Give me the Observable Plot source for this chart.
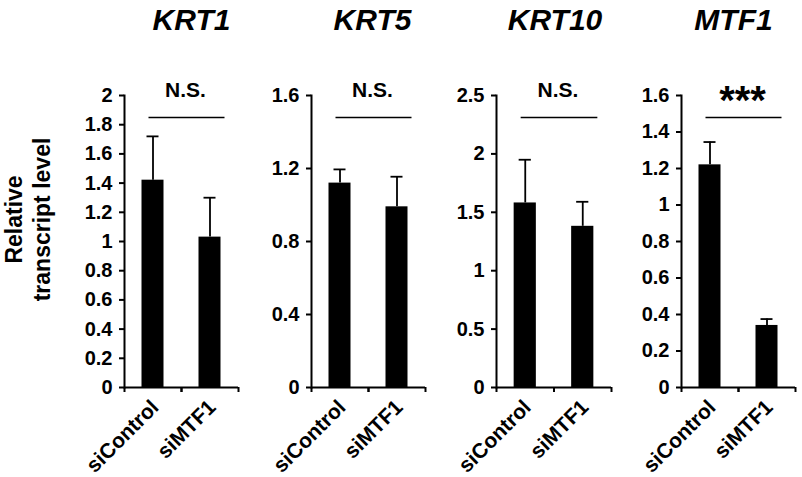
<!DOCTYPE html>
<html><head><meta charset="utf-8">
<script src="https://cdn.jsdelivr.net/npm/d3@7"></script>
<script src="https://cdn.jsdelivr.net/npm/@observablehq/plot@0.6"></script>
<style>
body{margin:0;background:#fff;}
#chart{position:relative;width:802px;height:477px;overflow:hidden;background:#fff;}
#chart > div{position:absolute;top:0;}
</style></head><body><div id="chart"></div>
<script>
const genes = ["KRT1", "KRT5", "KRT10", "MTF1"];
const groups = ["siControl", "siMTF1"];
const meanControl = [1.42, 1.12, 1.58, 1.22];
const meanMTF1 = [1.03, 0.99, 1.38, 0.34];
const errControl = [0.30, 0.075, 0.37, 0.125];
const errMTF1 = [0.27, 0.165, 0.21, 0.035];
const yMax = [2, 1.6, 2.5, 1.6];
const yTicks = [
  [0, 0.2, 0.4, 0.6, 0.8, 1, 1.2, 1.4, 1.6, 1.8, 2],
  [0, 0.4, 0.8, 1.2, 1.6],
  [0, 0.5, 1, 1.5, 2, 2.5],
  [0, 0.2, 0.4, 0.6, 0.8, 1, 1.2, 1.4, 1.6]
];
const sigLabels = ["N.S.", "N.S.", "N.S.", "***"];
const yTitle = "Relative\ntranscript level";

const FONT = "'Liberation Sans', Arial, Helvetica, sans-serif";
const H = 477, MT = 95, MB = 90;
const layout = [
  {left: 0, width: 245, marginLeft: 124, marginRight: 7, titleDx: 10},
  {left: 245, width: 185, marginLeft: 66, marginRight: 5, titleDx: 4},
  {left: 430, width: 185, marginLeft: 66, marginRight: 4, titleDx: 1},
  {left: 615, width: 187, marginLeft: 66, marginRight: 7, titleDx: -5}
];

const root = document.getElementById("chart");
genes.forEach((gene, i) => {
  const L = layout[i];
  const rows = groups.map((g, j) => ({
    group: g,
    mean: j ? meanMTF1[i] : meanControl[i],
    err: j ? errMTF1[i] : errControl[i]
  }));
  const tickRows = yTicks[i].map(v => ({value: v, label: String(v)}));
  const half = (L.width - L.marginLeft - L.marginRight) / 4;
  const frameH = H - MT - MB;
  const isStar = sigLabels[i] === "***";
  const marks = [
    Plot.ruleX(rows, {x: "group", y1: "mean", y2: d => d.mean + d.err, strokeWidth: 1.8}),
    Plot.tickY(rows, {x: "group", y: d => d.mean + d.err, insetLeft: 5, insetRight: 5, strokeWidth: 1.8}),
    Plot.barY(rows, {x: "group", y: "mean", fill: "black"}),
    Plot.ruleY([0], {strokeWidth: 2}),
    Plot.frame({anchor: "left", strokeWidth: 2}),
    Plot.axisY({ticks: yTicks[i], tickFormat: () => "", tickSize: 5, strokeWidth: 2, label: null}),
    Plot.text(tickRows, {y: "value", text: "label", frameAnchor: "left", textAnchor: "end",
      dx: -12, fontSize: "20px", fontWeight: "bold"}),
    Plot.ruleX(groups, {x: d => d, dx: -half, insetTop: frameH, insetBottom: -5, strokeWidth: 2}),
    Plot.ruleX(groups, {x: d => d, dx: half, insetTop: frameH, insetBottom: -5, strokeWidth: 2}),
    Plot.text(groups, {x: d => d, text: d => d, frameAnchor: "bottom", rotate: -45,
      textAnchor: "end", lineAnchor: "bottom", dx: 7, dy: 21, fontSize: "21px", fontWeight: "bold"}),
    Plot.text([gene], {frameAnchor: "top", text: d => d, lineAnchor: "bottom", dy: -65.5,
      dx: L.titleDx, fontSize: "30px", fontWeight: "bold", fontStyle: "italic"}),
    Plot.ruleY([yMax[i]], {y: d => d, x1: () => groups[0], x2: () => groups[1],
      dx: 4, insetLeft: 3, dy: 22, strokeWidth: 1.5}),
    Plot.text([sigLabels[i]], {frameAnchor: "top", text: d => d, lineAnchor: "bottom",
      dx: 4, dy: isStar ? 18 : 1, fontSize: isStar ? "40px" : "21px", fontWeight: "bold"})
  ];
  if (i === 0) {
    marks.push(Plot.text([yTitle], {frameAnchor: "left", text: d => d, rotate: -90,
      textAnchor: "middle", lineAnchor: "top", lineHeight: 1.22, dx: -122, dy: -22,
      fontSize: "23px", fontWeight: "bold"}));
  }
  const svg = Plot.plot({
    width: L.width, height: H,
    marginTop: MT, marginBottom: MB, marginLeft: L.marginLeft, marginRight: L.marginRight,
    style: {fontFamily: FONT, background: "white", overflow: "visible", color: "black"},
    x: {type: "band", domain: groups, paddingInner: 0.614, paddingOuter: 0.307, round: false, axis: null},
    y: {domain: [0, yMax[i]]},
    marks
  });
  const holder = document.createElement("div");
  holder.style.left = L.left + "px";
  holder.appendChild(svg);
  root.appendChild(holder);
});
</script></body></html>
